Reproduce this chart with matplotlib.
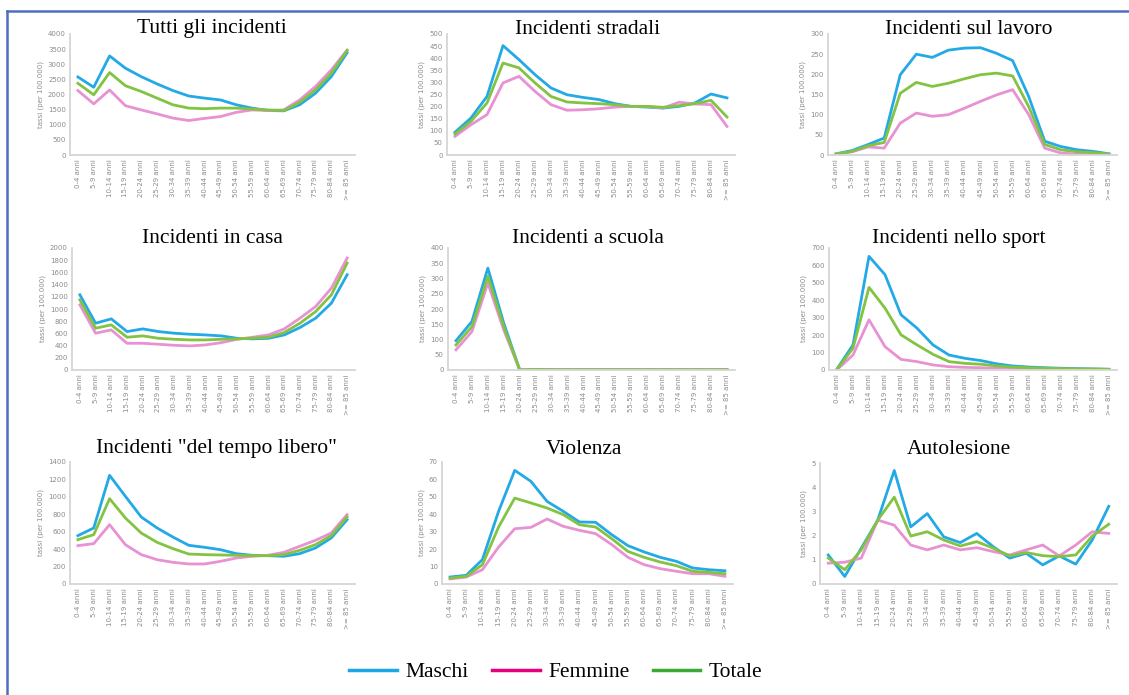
import matplotlib
matplotlib.use("Agg")
import matplotlib.pyplot as plt
from matplotlib.lines import Line2D

ages = ["0-4 anni", "5-9 anni", "10-14 anni", "15-19 anni", "20-24 anni", "25-29 anni",
        "30-34 anni", "35-39 anni", "40-44 anni", "45-49 anni", "50-54 anni", "55-59 anni",
        "60-64 anni", "65-69 anni", "70-74 anni", "75-79 anni", "80-84 anni", ">= 85 anni"]

titles = ["Tutti gli incidenti", "Incidenti stradali", "Incidenti sul lavoro",
          "Incidenti in casa", "Incidenti a scuola", "Incidenti nello sport",
          'Incidenti "del tempo libero"', "Violenza", "Autolesione"]

# tassi per 100.000 - maschi / femmine / totale
tutti_m = [2580, 2240, 3275, 2870, 2590, 2350, 2130, 1950, 1880, 1820, 1660, 1550, 1470, 1460, 1660, 2040, 2590, 3380]
tutti_f = [2130, 1690, 2150, 1630, 1490, 1360, 1220, 1140, 1210, 1270, 1410, 1490, 1470, 1490, 1820, 2260, 2810, 3470]
tutti_t = [2370, 1990, 2725, 2290, 2100, 1880, 1660, 1550, 1530, 1550, 1550, 1520, 1490, 1470, 1740, 2150, 2700, 3450]

strad_m = [94, 153, 242, 452, 394, 332, 277, 249, 238, 229, 212, 201, 198, 194, 201, 215, 252, 236]
strad_f = [77, 125, 167, 298, 325, 263, 208, 185, 187, 191, 198, 201, 201, 194, 218, 211, 208, 118]
strad_t = [87, 139, 215, 380, 360, 298, 242, 219, 215, 212, 208, 201, 201, 197, 204, 212, 226, 157]

lav_m = [3, 11, 26, 42, 199, 250, 242, 260, 265, 266, 252, 234, 145, 34, 21, 13, 9, 3]
lav_f = [2, 8, 20, 17, 79, 104, 96, 100, 116, 133, 149, 162, 100, 17, 5, 2, 2, 2]
lav_t = [2, 9, 23, 31, 153, 180, 170, 178, 189, 199, 203, 196, 120, 26, 13, 8, 6, 2]

casa_m = [1233, 767, 838, 630, 674, 630, 603, 586, 575, 559, 520, 510, 520, 575, 696, 850, 1096, 1562]
casa_f = [1068, 603, 658, 438, 438, 422, 405, 395, 411, 449, 504, 537, 575, 674, 850, 1041, 1342, 1836]
casa_t = [1150, 685, 740, 537, 559, 520, 504, 493, 493, 504, 510, 520, 537, 614, 767, 959, 1233, 1753]

scuola_m = [96, 159, 334, 153, 0, 1, 1, 1, 1, 1, 1, 1, 1, 1, 1, 1, 1, 1]
scuola_f = [66, 126, 285, 131, 0, 1, 1, 1, 1, 1, 1, 1, 1, 1, 1, 1, 1, 1]
scuola_t = [82, 142, 307, 142, 0, 2, 1, 1, 1, 1, 1, 1, 1, 1, 1, 1, 1, 1]

sport_m = [6, 144, 652, 547, 317, 240, 144, 86, 67, 54, 35, 23, 17, 13, 10, 8, 6, 4]
sport_f = [2, 86, 288, 134, 61, 48, 29, 19, 15, 13, 10, 8, 6, 4, 4, 4, 4, 4]
sport_t = [4, 125, 474, 355, 202, 144, 90, 48, 38, 33, 23, 17, 13, 10, 8, 6, 6, 4]

libero_m = [555, 643, 1247, 1006, 769, 643, 539, 444, 421, 394, 348, 329, 325, 318, 348, 413, 528, 738]
libero_f = [440, 463, 681, 451, 337, 279, 249, 230, 230, 260, 298, 318, 329, 363, 432, 501, 585, 796]
libero_t = [509, 566, 979, 757, 585, 478, 406, 344, 337, 333, 329, 325, 325, 337, 386, 451, 555, 769]

viol_m = [4.0, 5.0, 14.0, 41.7, 65.2, 58.9, 47.4, 41.7, 35.6, 35.4, 28.3, 22.0, 18.4, 15.3, 13.0, 9.2, 8.2, 7.6]
viol_f = [2.9, 4.0, 8.2, 21.2, 31.7, 32.5, 37.3, 33.1, 30.8, 28.9, 22.6, 15.3, 11.1, 8.8, 7.3, 5.9, 5.9, 4.4]
viol_t = [3.4, 4.4, 11.1, 32.7, 49.3, 46.5, 43.6, 39.8, 34.0, 32.7, 26.0, 18.7, 15.3, 12.6, 10.5, 7.3, 6.7, 5.9]

auto_m = [1.20, 0.31, 1.48, 2.64, 4.69, 2.36, 2.91, 1.95, 1.71, 2.09, 1.54, 1.07, 1.27, 0.79, 1.16, 0.82, 1.82, 3.21]
auto_f = [0.86, 0.90, 1.07, 2.64, 2.43, 1.61, 1.41, 1.61, 1.41, 1.50, 1.34, 1.20, 1.41, 1.61, 1.16, 1.61, 2.16, 2.09]
auto_t = [1.07, 0.59, 1.41, 2.64, 3.59, 1.98, 2.16, 1.82, 1.57, 1.75, 1.48, 1.16, 1.30, 1.17, 1.13, 1.20, 1.98, 2.47]

series = [(tutti_m, tutti_f, tutti_t), (strad_m, strad_f, strad_t), (lav_m, lav_f, lav_t),
          (casa_m, casa_f, casa_t), (scuola_m, scuola_f, scuola_t), (sport_m, sport_f, sport_t),
          (libero_m, libero_f, libero_t), (viol_m, viol_f, viol_t), (auto_m, auto_f, auto_t)]

ymax = [4000, 500, 300, 2000, 400, 700, 1400, 70, 5]
ystep = [500, 50, 50, 200, 50, 100, 200, 10, 1]

# pixel boxes of the plot areas: left, top, right, bottom
boxes = [(70, 34, 355, 155), (447, 34, 735, 155), (828, 34, 1117, 155),
         (72, 248, 355, 370), (448, 248, 735, 370), (829, 248, 1117, 370),
         (70, 462, 355, 584), (442, 462, 733, 584), (820, 463, 1117, 584)]
title_pos = [(212, 29), (588, 29), (969, 29), (212, 239), (588, 238), (959, 238),
             (216, 449), (584, 449), (959, 449)]

c_m = "#22a9e6"
c_f = "#e891d3"
c_t = "#82c341"

W, H = 1129, 695
fig = plt.figure(figsize=(W / 100, H / 100), dpi=100)
fig.patch.set_facecolor("white")

x = list(range(len(ages)))
for i in range(9):
    l, t, r, b = boxes[i]
    ax = fig.add_axes([l / W, 1 - b / H, (r - l) / W, (b - t) / H])
    m, f, tot = series[i]
    ax.plot(x, m, color=c_m, lw=2, solid_joinstyle="round")
    ax.plot(x, f, color=c_f, lw=2, solid_joinstyle="round")
    ax.plot(x, tot, color=c_t, lw=2, solid_joinstyle="round")
    ax.set_xlim(-0.5, len(ages) - 0.5)
    ax.set_ylim(0, ymax[i])
    yt = [k * ystep[i] for k in range(int(round(ymax[i] / ystep[i])) + 1)]
    ax.set_yticks(yt)
    ax.set_xticks(x)
    ax.set_xticklabels(ages, rotation=90)
    ax.tick_params(length=0, labelsize=5, labelcolor="#8c8c8c", pad=3)
    for s in ["top", "right"]:
        ax.spines[s].set_visible(False)
    for s in ["left", "bottom"]:
        ax.spines[s].set_color("#d6d6d6")
        ax.spines[s].set_linewidth(1.3)
    ax.set_ylabel("tassi (per 100.000)", fontsize=5, color="#8c8c8c", labelpad=3)
    ax.patch.set_alpha(0)
    tx, ty = title_pos[i]
    fig.text(tx / W, 1 - ty / H, titles[i], ha="center", va="center",
             fontsize=15.5, family="Liberation Serif", color="black")

# legend at the bottom
handles = [Line2D([], [], color="#1aa7e6", lw=2.5),
           Line2D([], [], color="#e6007e", lw=2.5),
           Line2D([], [], color="#3aaa35", lw=2.5)]
fig.legend(handles, ["Maschi", "Femmine", "Totale"], loc="center", ncol=3,
           bbox_to_anchor=(556 / W, 1 - 672 / H), frameon=False,
           prop={"family": "Liberation Serif", "size": 15.5},
           handlelength=2.2, handletextpad=0.4, columnspacing=1.1)

# blue frame (left and top edges)
fig.add_artist(Line2D([7 / W, 7 / W], [0, 1 - 11 / H], color="#4e6ec0", lw=1.8))
fig.add_artist(Line2D([7 / W, 1], [1 - 11 / H, 1 - 11 / H], color="#4e6ec0", lw=1.8))

fig.savefig("out.png", dpi=100)
